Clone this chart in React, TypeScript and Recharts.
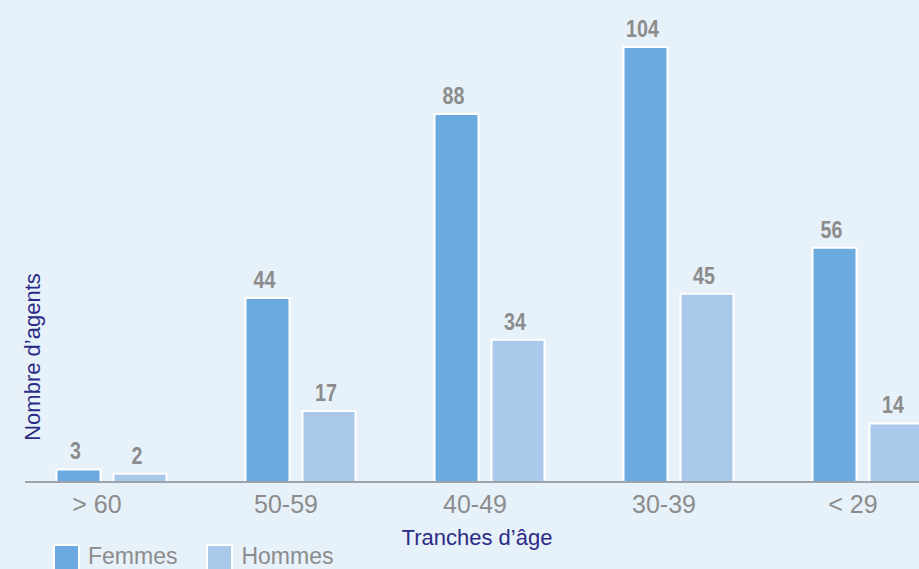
import React from 'react';
import { BarChart, Bar, XAxis, YAxis, Legend, LabelList } from 'recharts';

const categories = ['> 60', '50-59', '40-49', '30-39', '< 29'];
const femmes = [3, 44, 88, 104, 56];
const hommes = [2, 17, 34, 45, 14];

const data = categories.map((tranche, i) => ({
  tranche,
  femmes: femmes[i],
  hommes: hommes[i],
}));

const FONT = '"Liberation Sans", Arial, sans-serif';
const NAVY = '#2b2b86';
const GREY = '#8c8c8c';
const FEMMES_COLOR = '#6aaadf';
const HOMMES_COLOR = '#aac8ea';

// condensed bold value above each bar (no narrow font installed, so squeeze it)
function ValueLabel(props: any) {
  const { x, y, width, value } = props;
  const cx = Number(x) + Number(width) / 2 - 3;
  const by = Number(y) - 10;
  return (
    <text
      transform={`translate(${cx}, ${by}) scale(0.82, 1)`}
      textAnchor="middle"
      fill={GREY}
      fontSize={24}
      fontWeight="bold"
      fontFamily={FONT}
    >
      {value}
    </text>
  );
}

function LegendContent() {
  const items = [
    { label: 'Femmes', color: FEMMES_COLOR },
    { label: 'Hommes', color: HOMMES_COLOR },
  ];
  return (
    <div style={{ display: 'flex', alignItems: 'flex-start', fontFamily: FONT, fontSize: 23, color: GREY }}>
      {items.map(item => (
        <div key={item.label} style={{ display: 'flex', alignItems: 'flex-start', marginRight: 29 }}>
          <span
            style={{
              display: 'inline-block',
              width: 27,
              height: 30,
              background: item.color,
              border: '2px solid #ffffff',
              boxSizing: 'border-box',
              marginRight: 8,
            }}
          />
          <span style={{ lineHeight: 1, marginTop: 1 }}>{item.label}</span>
        </div>
      ))}
    </div>
  );
}

export default function App() {
  return (
    <div
      style={{
        position: 'absolute',
        left: 0,
        top: 0,
        width: 919,
        height: 569,
        overflow: 'hidden',
        background: '#e7f1fa',
      }}
    >
      <BarChart
        width={963}
        height={569}
        data={data}
        margin={{ top: 22, right: 0, left: 0, bottom: 0 }}
        barGap={13}
      >
        <XAxis
          dataKey="tranche"
          height={87}
          padding={{ left: -8.5, right: 1.5 }}
          axisLine={{ stroke: '#9ea3ab', strokeWidth: 2 }}
          tickLine={false}
          tickSize={0}
          tickMargin={13}
          tick={{ fill: GREY, fontSize: 25, fontFamily: FONT, dx: -14 }}
          label={{
            content: () => (
              <text x={477} y={545} textAnchor="middle" fill={NAVY} fontSize={22} fontFamily={FONT}>
                Tranches d’âge
              </text>
            ),
          }}
        />
        <YAxis
          width={25}
          domain={[0, 110]}
          axisLine={false}
          tickLine={false}
          tick={false}
          label={{
            content: () => (
              <text
                x={40}
                y={357}
                transform="rotate(-90 40 357)"
                textAnchor="middle"
                fill={NAVY}
                fontSize={22}
                fontFamily={FONT}
              >
                Nombre d’agents
              </text>
            ),
          }}
        />
        <Legend
          verticalAlign="middle"
          align="center"
          layout="horizontal"
          wrapperStyle={{ left: 53, top: 544, width: 400 }}
          content={() => <LegendContent />}
        />
        <Bar dataKey="femmes" name="Femmes" fill={FEMMES_COLOR} stroke="#ffffff" strokeWidth={2} barSize={44} isAnimationActive={false}>
          <LabelList dataKey="femmes" content={ValueLabel} />
        </Bar>
        <Bar dataKey="hommes" name="Hommes" fill={HOMMES_COLOR} stroke="#ffffff" strokeWidth={2} barSize={53} isAnimationActive={false}>
          <LabelList dataKey="hommes" content={ValueLabel} />
        </Bar>
      </BarChart>
    </div>
  );
}
